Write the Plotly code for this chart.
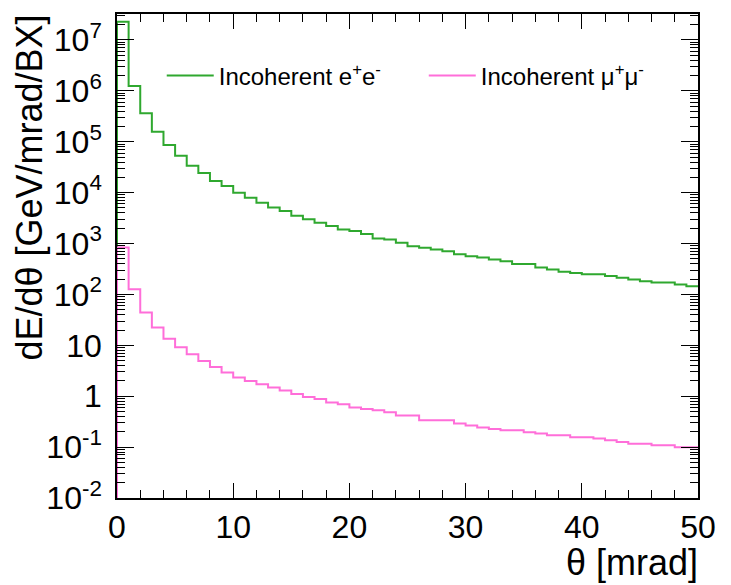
import plotly.graph_objects as go

# Bin edges of the theta histograms [mrad], 1 mrad wide
theta_edges = list(range(0, 51))

# Energy deposition per bin, dE/dtheta [GeV/mrad/BX]
incoherent_ee = [
    2.29e7, 1.245e6, 3.61e5, 1.57e5, 8.6e4, 5.3e4, 3.37e4, 2.42e4, 1.69e4, 1.35e4,
    9.9e3, 7.9e3, 6.3e3, 5.1e3, 4.34e3, 3.5e3, 3.0e3, 2.55e3, 2.2e3, 1893,
    1754, 1531, 1259, 1205, 1032, 889, 823, 765, 708, 619,
    565, 533, 487, 451, 394, 394, 339, 310, 278, 265,
    250, 250, 229, 212, 197, 182, 172, 172, 157, 145,
]
incoherent_mumu = [
    838, 127, 44.2, 22.4, 13.4, 9.2, 6.7, 4.94, 3.77, 2.92,
    2.33, 2.0, 1.72, 1.48, 1.29, 1.11, 0.97, 0.885, 0.75, 0.695,
    0.598, 0.562, 0.53, 0.484, 0.42, 0.42, 0.337, 0.337, 0.337, 0.29,
    0.266, 0.242, 0.227, 0.214, 0.214, 0.196, 0.185, 0.171, 0.171, 0.156,
    0.156, 0.147, 0.136, 0.126, 0.117, 0.117, 0.109, 0.109, 0.099, 0.099,
]

series_names = ["Incoherent e<sup>+</sup>e<sup>-</sup>", "Incoherent \u03bc<sup>+</sup>\u03bc<sup>-</sup>"]
series_colors = ["#2fa82f", "#ff6ed9"]
series_legends = ["legend", "legend2"]

y_min, y_max_log = 1e-2, 7.51
y_tick_vals = [1e-2, 1e-1, 1, 10, 1e2, 1e3, 1e4, 1e5, 1e6, 1e7]
y_tick_text = ["10<sup>-2</sup>", "10<sup>-1</sup>", "1", "10", "10<sup>2</sup>",
               "10<sup>3</sup>", "10<sup>4</sup>", "10<sup>5</sup>", "10<sup>6</sup>", "10<sup>7</sup>"]


def step_outline(edges, values, floor):
    """Outline of a histogram drawn as a step line rising from the axis floor."""
    xs = [edges[0]] + list(edges[:-1]) + [edges[-1]]
    ys = [floor] + list(values) + [values[-1]]
    return xs, ys


fig = go.Figure()
for name, vals, col, leg in zip(series_names, [incoherent_ee, incoherent_mumu],
                                series_colors, series_legends):
    xs, ys = step_outline(theta_edges, vals, y_min)
    fig.add_trace(go.Scatter(
        x=xs, y=ys, mode="lines", name=name, legend=leg,
        line=dict(color=col, width=2, shape="hv"),
        hoverinfo="skip",
    ))

# minor log ticks 2..9 in every decade
minor_vals = [m * 10.0 ** p for p in range(-2, 8) for m in range(2, 10)]

font_main = "Liberation Sans, Arial, Helvetica, sans-serif"
legend_style = dict(
    orientation="h", xanchor="left", yanchor="middle",
    bgcolor="rgba(0,0,0,0)", font=dict(size=24, family=font_main),
    itemwidth=47,
)

fig.update_layout(
    width=731, height=585,
    margin=dict(l=117, r=33, t=14, b=87),
    paper_bgcolor="white", plot_bgcolor="white",
    font=dict(family=font_main, size=32, color="black"),
    showlegend=True,
    legend=dict(x=0.077, y=0.872, **legend_style),
    legend2=dict(x=0.528, y=0.872, **legend_style),
    xaxis=dict(
        range=[0, 50], showgrid=False, zeroline=False, automargin=False,
        showline=True, linecolor="black", linewidth=1.5, mirror="ticks",
        ticks="inside", ticklen=15, tickwidth=1.3, tickcolor="black",
        tickmode="array", tickvals=[0, 10, 20, 30, 40, 50],
        minor=dict(ticks="inside", ticklen=8, tickwidth=1.3, tickcolor="black", dtick=2, showgrid=False),
        tickfont=dict(size=32), ticklabelstandoff=0,
    ),
    yaxis=dict(
        type="log", range=[-2, y_max_log], showgrid=False, zeroline=False, automargin=False,
        showline=True, linecolor="black", linewidth=1.5, mirror="ticks",
        ticks="inside", ticklen=17, tickwidth=1.3, tickcolor="black",
        tickmode="array", tickvals=y_tick_vals, ticktext=y_tick_text,
        minor=dict(ticks="inside", ticklen=8.5, tickwidth=1.3, tickcolor="black",
                   tickmode="array", tickvals=minor_vals, showgrid=False),
        tickfont=dict(size=32), ticklabelstandoff=7,
    ),
    annotations=[
        dict(text="dE/d\u03b8 [GeV/mrad/BX]", textangle=-90, showarrow=False,
             xref="paper", yref="paper", x=-0.151, y=0.642,
             xanchor="center", yanchor="middle", font=dict(size=36)),
        dict(text="\u03b8 [mrad]", showarrow=False,
             xref="paper", yref="paper", x=1.003, y=-0.134,
             xanchor="right", yanchor="middle", font=dict(size=36)),
    ],
)

fig.write_html("out.html")
